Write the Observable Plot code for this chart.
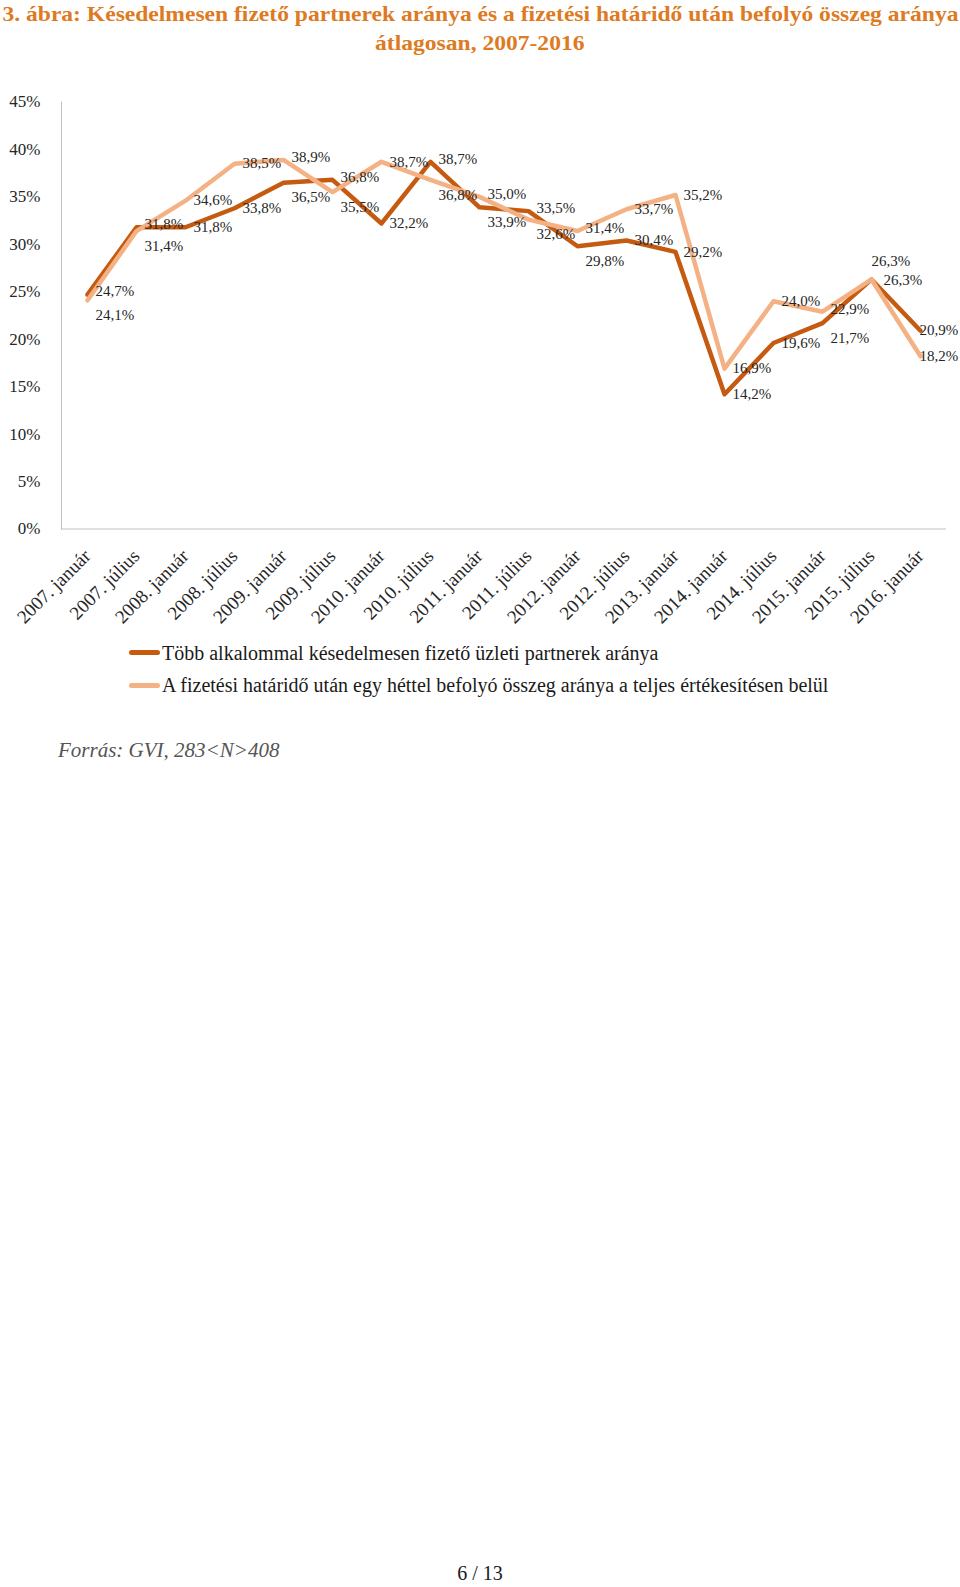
<!DOCTYPE html>
<html>
<head>
<meta charset="utf-8">
<script src="https://cdn.jsdelivr.net/npm/d3@7"></script>
<script src="https://cdn.jsdelivr.net/npm/@observablehq/plot@0.6"></script>
<style>
  html, body { margin: 0; padding: 0; background: #fff; }
  body { width: 960px; height: 1587px; position: relative; font-family: "Liberation Serif", serif; overflow: hidden; }
  #title { position: absolute; top: -1px; left: 0; width: 960px; text-align: center; color: #DE7A22; font-weight: bold; font-size: 22px; line-height: 29px; white-space: nowrap; }
  #title div span { display: inline-block; transform-origin: center; }
  #chart { position: absolute; top: 70px; left: 0; }
  .leg { position: absolute; left: 129px; height: 24px; line-height: 24px; font-size: 20px; color: #1a1a1a; white-space: nowrap; display: flex; align-items: center; }
  .sw { display: inline-block; width: 31px; height: 5px; border-radius: 2.5px; margin-right: 2px; }
  #source { position: absolute; left: 58px; top: 737px; font-style: italic; font-size: 21px; line-height: 26px; color: #555; }
  #page { position: absolute; left: 0; width: 960px; top: 1560px; text-align: center; font-size: 20px; line-height: 26px; color: #1a1a1a; }
</style>
</head>
<body>
<div id="title"></div>
<div id="chart"></div>
<div id="legend"></div>
<div id="source"></div>
<div id="page"></div>
<script>
// ---- data ----
const titleLines = [
  "3. ábra: Késedelmesen fizető partnerek aránya és a fizetési határidő után befolyó összeg aránya",
  "átlagosan, 2007-2016"
];
const categories = [
  "2007. január", "2007. július", "2008. január", "2008. július", "2009. január", "2009. július",
  "2010. január", "2010. július", "2011. január", "2011. július", "2012. január", "2012. július",
  "2013. január", "2014. január", "2014. július", "2015. január", "2015. július", "2016. január"
];
const seriesNames = [
  "Több alkalommal késedelmesen fizető üzleti partnerek aránya",
  "A fizetési határidő után egy héttel befolyó összeg aránya a teljes értékesítésen belül"
];
const latePartners = [24.7, 31.8, 31.8, 33.8, 36.5, 36.8, 32.2, 38.7, 33.9, 33.5, 29.8, 30.4, 29.2, 14.2, 19.6, 21.7, 26.3, 20.9];
const paidAfterWeek = [24.1, 31.4, 34.6, 38.5, 38.9, 35.5, 38.7, 36.8, 35.0, 32.6, 31.4, 33.7, 35.2, 16.9, 24.0, 22.9, 26.3, 18.2];
const yTicks = [0, 5, 10, 15, 20, 25, 30, 35, 40, 45];
const sourceText = "Forrás: GVI, 283<N>408";
const pageText = "6 / 13";

// ---- build ----
const colors = ["#C55A11", "#F4B183"];
const seriesValues = [latePartners, paidAfterWeek];

// label placement derived from how close the two series are at each category
const rows = [];
seriesValues.forEach((vals, s) => {
  vals.forEach((v, i) => {
    const other = seriesValues[1 - s][i];
    const last = i === vals.length - 1;
    let dx = last ? -1 : 8, dy = 0;
    if (!last && Math.abs(v - other) < 2.5) {
      if (v > other) dy = -3;
      else if (v < other) dy = 15;
      else if (s === 1) { dx = 0; dy = -18; }
      else { dx = 12; dy = 1; }
    }
    rows.push({cat: categories[i], series: seriesNames[s], value: v, dx, dy});
  });
});

const fmt = d => d.toFixed(1).replace(".", ",") + "%";
const offsets = Array.from(new Set(rows.map(d => d.dx + "|" + d.dy)));
const labelMarks = offsets.map(key => {
  const [dx, dy] = key.split("|").map(Number);
  return Plot.text(rows.filter(d => d.dx === dx && d.dy === dy), {
    x: "cat", y: "value", text: d => fmt(d.value), textAnchor: "start",
    fontSize: 15, fill: "#262626", dx, dy
  });
});

const chart = Plot.plot({
  width: 960,
  height: 570,
  marginTop: 31.5,
  marginBottom: 111.5,
  marginLeft: 61,
  marginRight: 14,
  style: {fontFamily: '"Liberation Serif", serif', background: "#fff", overflow: "visible", color: "#262626"},
  x: {type: "point", domain: categories, padding: 0.5, label: null},
  y: {domain: [0, 45], label: null},
  color: {domain: seriesNames, range: colors},
  marks: [
    Plot.frame({anchor: "left", stroke: "#c0c0c0"}),
    Plot.ruleY([0], {stroke: "#c0c0c0"}),
    Plot.axisY({ticks: yTicks, tickSize: 0, tickPadding: 21, tickFormat: d => d + "%", fontSize: 17, label: null}),
    Plot.axisX({tickSize: 0, tickPadding: 24, tickRotate: -45, fontSize: 19, label: null}),
    Plot.line(rows, {x: "cat", y: "value", z: "series", stroke: "series", strokeWidth: 4.5, strokeLinejoin: "round", strokeLinecap: "round"}),
    ...labelMarks
  ]
});
document.getElementById("chart").appendChild(chart);

// title (first line stretched to the full page width as in the original)
const titleEl = document.getElementById("title");
titleLines.forEach((t, i) => {
  const line = document.createElement("div");
  const span = document.createElement("span");
  span.textContent = t;
  line.appendChild(span);
  titleEl.appendChild(line);
});
const firstSpan = titleEl.querySelector("span");
const w = firstSpan.getBoundingClientRect().width;
const k = 956 / w;
titleEl.querySelectorAll("span").forEach(s => { s.style.transform = `scaleX(${k})`; });

const legend = document.getElementById("legend");
seriesNames.forEach((name, i) => {
  const item = document.createElement("div");
  item.className = "leg";
  item.style.top = (640.5 + i * 32.5) + "px";
  const sw = document.createElement("span");
  sw.className = "sw";
  sw.style.background = colors[i];
  item.appendChild(sw);
  item.appendChild(document.createTextNode(name));
  legend.appendChild(item);
});

document.getElementById("source").textContent = sourceText;
document.getElementById("page").textContent = pageText;
</script>
</body>
</html>
